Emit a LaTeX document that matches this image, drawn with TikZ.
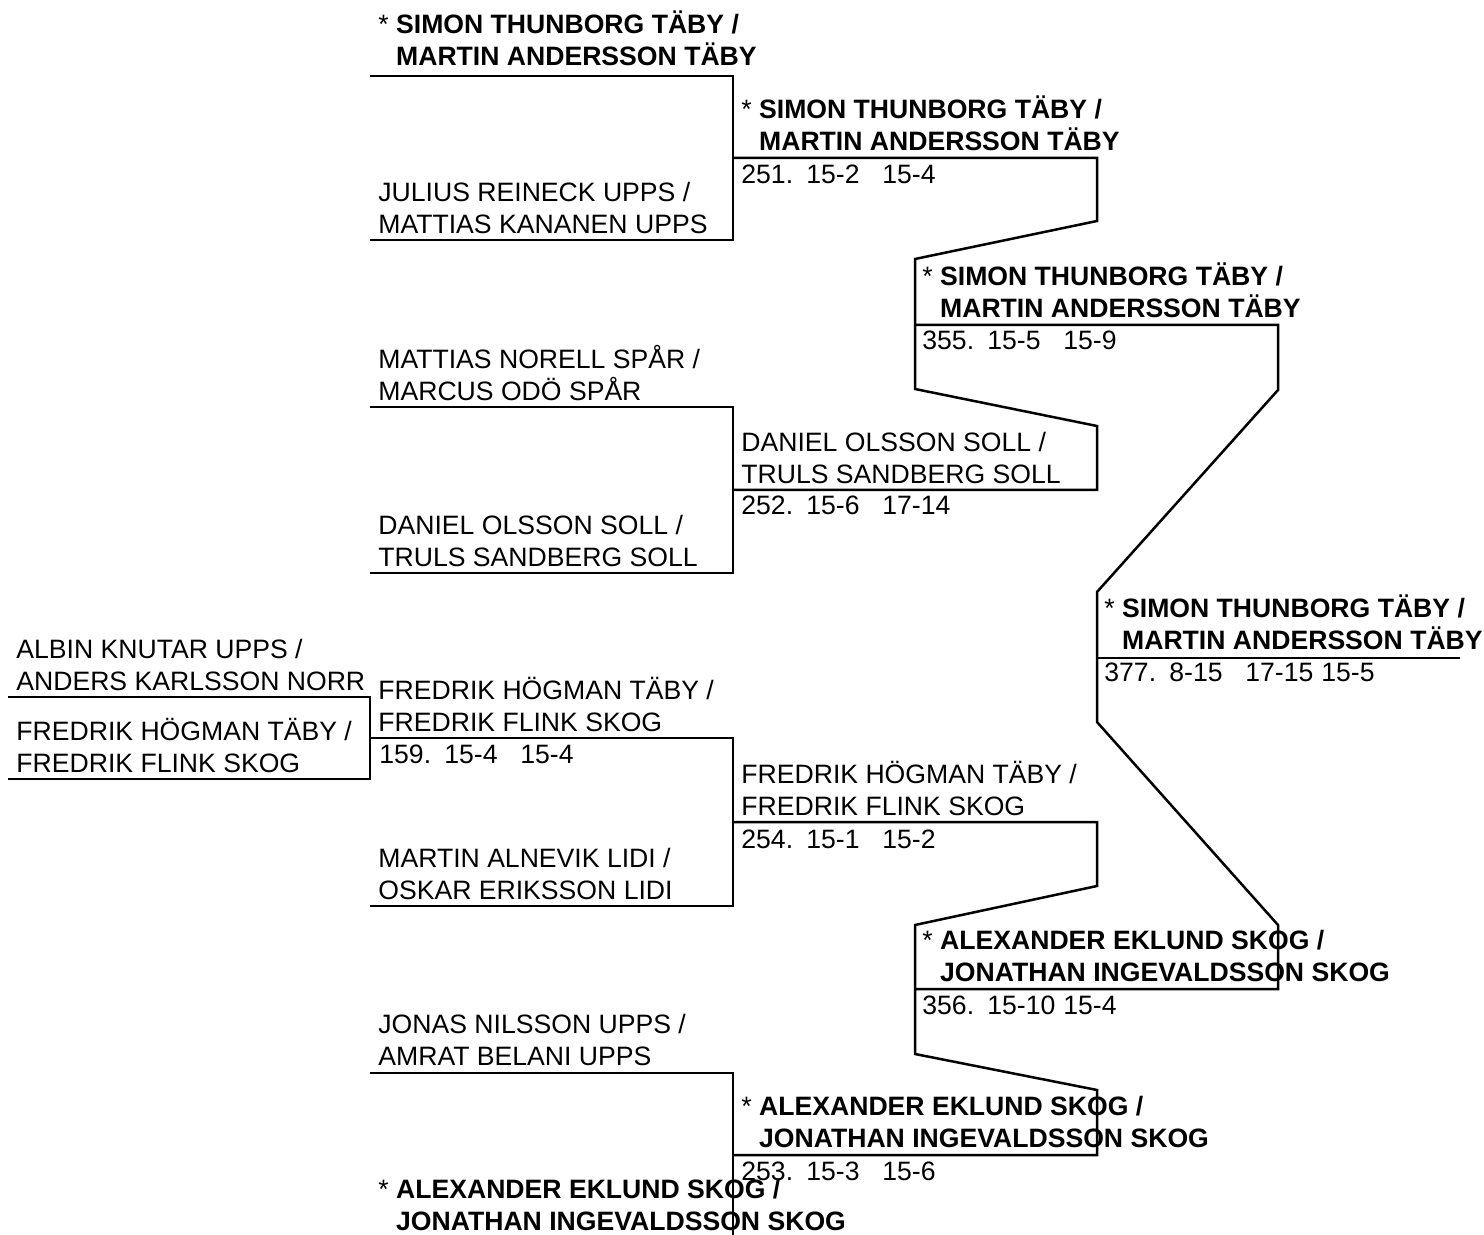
\documentclass[tikz,border=0pt]{standalone}
\usepackage{fontspec}
\setmainfont{Liberation Sans}
\newcommand{\teamfont}{\fontsize{13.3}{16}\selectfont}
\newcommand{\pair}[2]{#1\\#2}
\newcommand{\seed}[2]{*\ \textbf{#1}\\\phantom{*\ }\textbf{#2}}
\newcommand{\res}[4]{\makebox[32.5pt][l]{#1}\makebox[38pt][l]{#2}\makebox[38pt][l]{#3}#4}
\tikzset{
    bline/.style={line width=1.25pt, black},
    team/.style={anchor=south west, inner sep=0pt, text depth=0pt, align=left, font=\teamfont},
    score/.style={anchor=base west, inner sep=0pt, font=\teamfont},
}
\begin{document}
\begin{tikzpicture}[x=0.5pt, y=-0.5pt]
            \useasboundingbox (0,0) rectangle (1484,1235);
            % Qualifying match
            \draw[bline] (8,697) -- (370,697) -- (370,779) -- (8,779);
            \node[team] (q1) at (16,691) {\pair{ALBIN KNUTAR UPPS /}{ANDERS KARLSSON NORR}};
            \node[team] (q2) at (16,773) {\pair{FREDRIK HÖGMAN TÄBY /}{FREDRIK FLINK SKOG}};
            
            % First round
            \draw[bline] (370,76) -- (733,76) -- (733,240) -- (370,240);
            \draw[bline] (370,407) -- (733,407) -- (733,573) -- (370,573);
            \draw[bline] (370,738) -- (733,738) -- (733,906) -- (370,906);
            \draw[bline] (370,1073) -- (733,1073) -- (733,1239) -- (370,1239);
            \node[team] (r1a) at (378,66) {\seed{SIMON THUNBORG TÄBY /}{MARTIN ANDERSSON TÄBY}};
            \node[team] (r1b) at (378,234) {\pair{JULIUS REINECK UPPS /}{MATTIAS KANANEN UPPS}};
            \node[team] (r1c) at (378,401) {\pair{MATTIAS NORELL SPÅR /}{MARCUS ODÖ SPÅR}};
            \node[team] (r1d) at (378,567) {\pair{DANIEL OLSSON SOLL /}{TRULS SANDBERG SOLL}};
            \node[team] (r1e) at (378,732) {\pair{FREDRIK HÖGMAN TÄBY /}{FREDRIK FLINK SKOG}};
            \node[score] (s159) at (379,763) {\res{159.}{15-4}{15-4}{}};
            \node[team] (r1f) at (378,900) {\pair{MARTIN ALNEVIK LIDI /}{OSKAR ERIKSSON LIDI}};
            \node[team] (r1g) at (378,1066) {\pair{JONAS NILSSON UPPS /}{AMRAT BELANI UPPS}};
            \node[team] (r1h) at (378,1231) {\seed{ALEXANDER EKLUND SKOG /}{JONATHAN INGEVALDSSON SKOG}};
            
            % Second round
            \draw[bline] (733,158) -- (1097,158) -- (1097,221) -- (915,259) -- (915,389) -- (1097,426) -- (1097,490) -- (733,490);
            \draw[bline] (733,822) -- (1097,822) -- (1097,886) -- (915,925) -- (915,1054) -- (1097,1090) -- (1097,1155) -- (733,1155);
            \node[team] (r2a) at (741,151) {\seed{SIMON THUNBORG TÄBY /}{MARTIN ANDERSSON TÄBY}};
            \node[score] (s251) at (741,184) {\res{251.}{15-2}{15-4}{}};
            \node[team] (r2b) at (741,484) {\pair{DANIEL OLSSON SOLL /}{TRULS SANDBERG SOLL}};
            \node[score] (s252) at (741,515) {\res{252.}{15-6}{17-14}{}};
            \node[team] (r2c) at (741,816) {\pair{FREDRIK HÖGMAN TÄBY /}{FREDRIK FLINK SKOG}};
            \node[score] (s254) at (741,848) {\res{254.}{15-1}{15-2}{}};
            \node[team] (r2d) at (741,1148) {\seed{ALEXANDER EKLUND SKOG /}{JONATHAN INGEVALDSSON SKOG}};
            \node[score] (s253) at (741,1180) {\res{253.}{15-3}{15-6}{}};
            
            % Semi-finals
            \draw[bline] (915,325) -- (1278,325) -- (1278,390) -- (1097,592) -- (1097,722) -- (1278,925) -- (1278,989) -- (915,989);
            \node[team] (r3a) at (922,318) {\seed{SIMON THUNBORG TÄBY /}{MARTIN ANDERSSON TÄBY}};
            \node[score] (s355) at (922,350) {\res{355.}{15-5}{15-9}{}};
            \node[team] (r3b) at (922,982) {\seed{ALEXANDER EKLUND SKOG /}{JONATHAN INGEVALDSSON SKOG}};
            \node[score] (s356) at (922,1014) {\res{356.}{15-10}{15-4}{}};
            
            % Final
            \draw[bline] (1097,658) -- (1460,658);
            \node[team] (fin) at (1104,650) {\seed{SIMON THUNBORG TÄBY /}{MARTIN ANDERSSON TÄBY}};
            \node[score] (s377) at (1104,681) {\res{377.}{8-15}{17-15}{15-5}};
        \end{tikzpicture}
\end{document}
